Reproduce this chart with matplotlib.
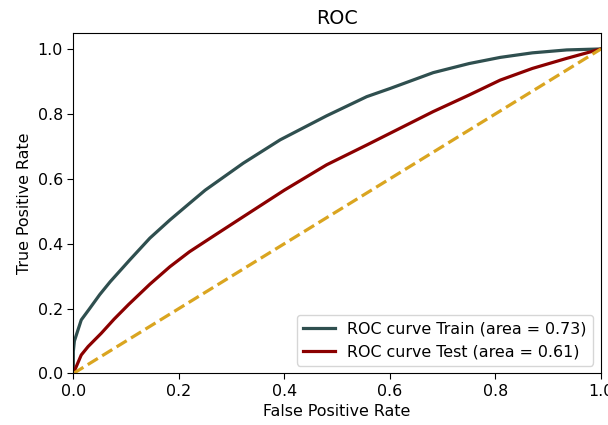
import matplotlib
matplotlib.use("Agg")
import matplotlib.pyplot as plt

train_fpr = [0.0, 0.0, 0.002, 0.015, 0.03, 0.05, 0.07, 0.107, 0.145, 0.183, 0.22, 0.25, 0.322, 0.392, 0.48, 0.556, 0.6, 0.682, 0.75, 0.809, 0.87, 0.935, 1.0]
train_tpr = [0.0, 0.068, 0.1, 0.165, 0.198, 0.243, 0.283, 0.35, 0.417, 0.473, 0.524, 0.565, 0.648, 0.72, 0.794, 0.853, 0.878, 0.927, 0.955, 0.974, 0.988, 0.997, 1.0]

test_fpr = [0.0, 0.015, 0.028, 0.053, 0.077, 0.105, 0.145, 0.183, 0.22, 0.268, 0.322, 0.4, 0.48, 0.556, 0.682, 0.75, 0.809, 0.87, 0.935, 1.0]
test_tpr = [0.0, 0.057, 0.083, 0.124, 0.167, 0.213, 0.275, 0.329, 0.375, 0.426, 0.483, 0.565, 0.643, 0.704, 0.807, 0.858, 0.904, 0.94, 0.971, 1.0]

diag = [0.0, 1.0]

plt.rcParams.update({
    "font.size": 11.4,
    "xtick.major.size": 4,
    "ytick.major.size": 4,
})

fig = plt.figure(figsize=(6.08, 4.25), dpi=100)
ax = fig.add_axes([0.1206, 0.1212, 0.8679, 0.8018])
ax.plot(train_fpr, train_tpr, color="darkslategray", lw=2.3, label="ROC curve Train (area = 0.73)")
ax.plot(test_fpr, test_tpr, color="darkred", lw=2.3, label="ROC curve Test (area = 0.61)")
ax.plot(diag, diag, color="goldenrod", lw=2.3, linestyle="--")
ax.set_xlim(0.0, 1.0)
ax.set_ylim(0.0, 1.05)
ax.set_xlabel("False Positive Rate")
ax.set_ylabel("True Positive Rate")
ax.set_title("ROC")
ax.legend(loc="lower right")
fig.savefig("out.png", dpi=100)
